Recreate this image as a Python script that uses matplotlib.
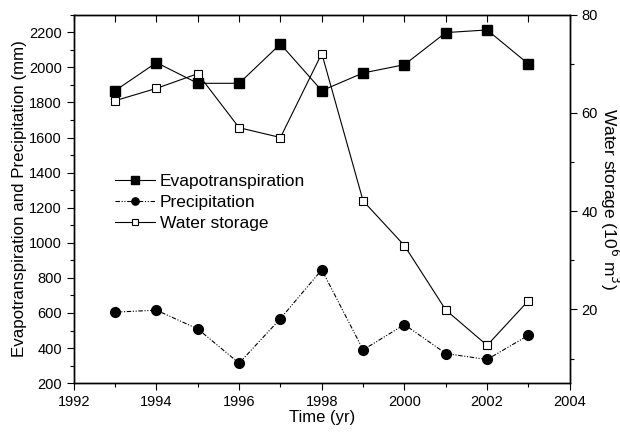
import numpy as np
import matplotlib
matplotlib.use("Agg")
import matplotlib.pyplot as plt
from matplotlib.ticker import MultipleLocator

plt.rcParams['font.family'] = ['Liberation Sans', 'DejaVu Sans']

# Datos
years = [1993, 1994, 1995, 1996, 1997, 1998, 1999, 2000, 2001, 2002, 2003]
evapo = [1867, 2027, 1909, 1909, 2133, 1867, 1968, 2015, 2198, 2213, 2019]
precip = [605, 616, 509, 314, 568, 846, 390, 534, 369, 335, 473]
storage = [62.5, 65.0, 68.0, 57.0, 55.0, 72.1, 42.1, 33.0, 19.9, 12.7, 21.8]

fig = plt.figure(figsize=(6.2, 4.32), dpi=100)
ax = fig.add_axes([0.119, 0.113, 0.8, 0.853])
ax2 = ax.twinx()

l1, = ax.plot(years, evapo, color='black', linewidth=0.8, marker='s',
              markersize=7, markerfacecolor='black', label='Evapotranspiration')
l2, = ax.plot(years, precip, color='black', linewidth=0.8, marker='o',
              markersize=7, markerfacecolor='black', dashes=(4, 1.5, 1, 1.5, 1, 1.5),
              label='Precipitation')
l3, = ax2.plot(years, storage, color='black', linewidth=0.8, marker='s',
               markersize=6, markerfacecolor='white', markeredgewidth=0.8,
               label='Water storage')

ax.set_xlim(1992, 2004)
ax.set_ylim(200, 2300)
ax2.set_ylim(5, 80)

ax.xaxis.set_major_locator(MultipleLocator(2))
ax.xaxis.set_minor_locator(MultipleLocator(1))
ax.yaxis.set_major_locator(MultipleLocator(200))
ax.yaxis.set_minor_locator(MultipleLocator(100))
ax2.yaxis.set_major_locator(MultipleLocator(20))
ax2.yaxis.set_minor_locator(MultipleLocator(10))

ax.tick_params(axis='both', which='major', direction='out', length=5, width=0.8, labelsize=10.5)
ax.tick_params(axis='both', which='minor', direction='out', length=3, width=0.8)
ax.tick_params(axis='x', which='both', top=True, labeltop=False)
ax2.tick_params(axis='y', which='major', direction='out', length=5, width=0.8, labelsize=10.5)
ax2.tick_params(axis='y', which='minor', direction='out', length=3, width=0.8)

# ticks superiores hacia dentro
for t in ax.xaxis.get_major_ticks() + ax.xaxis.get_minor_ticks():
    t.tick2line.set_marker(matplotlib.lines.TICKDOWN)
    t.tick2line.set_markersize(5)

for sp in ax.spines.values():
    sp.set_linewidth(1.0)
for sp in ax2.spines.values():
    sp.set_linewidth(1.0)

ax.set_xlabel('Time (yr)', fontsize=12, labelpad=1)
ax.set_ylabel('Evapotranspiration and Precipitation (mm)', fontsize=12.2)
ax.yaxis.set_label_coords(-0.095, 0.5)
ax2.set_ylabel('Water storage (10$^6$ m$^3$)', fontsize=12.5, rotation=270)
ax2.yaxis.set_label_coords(1.104, 0.5)

ax.legend(handles=[l1, l2, l3], loc='upper left', bbox_to_anchor=(0.083, 0.569),
          frameon=False, fontsize=12.5, handlelength=2.3, handletextpad=0.3,
          labelspacing=0.35, borderaxespad=0, borderpad=0, markerscale=0.75)

fig.savefig('out.png', dpi=100)
